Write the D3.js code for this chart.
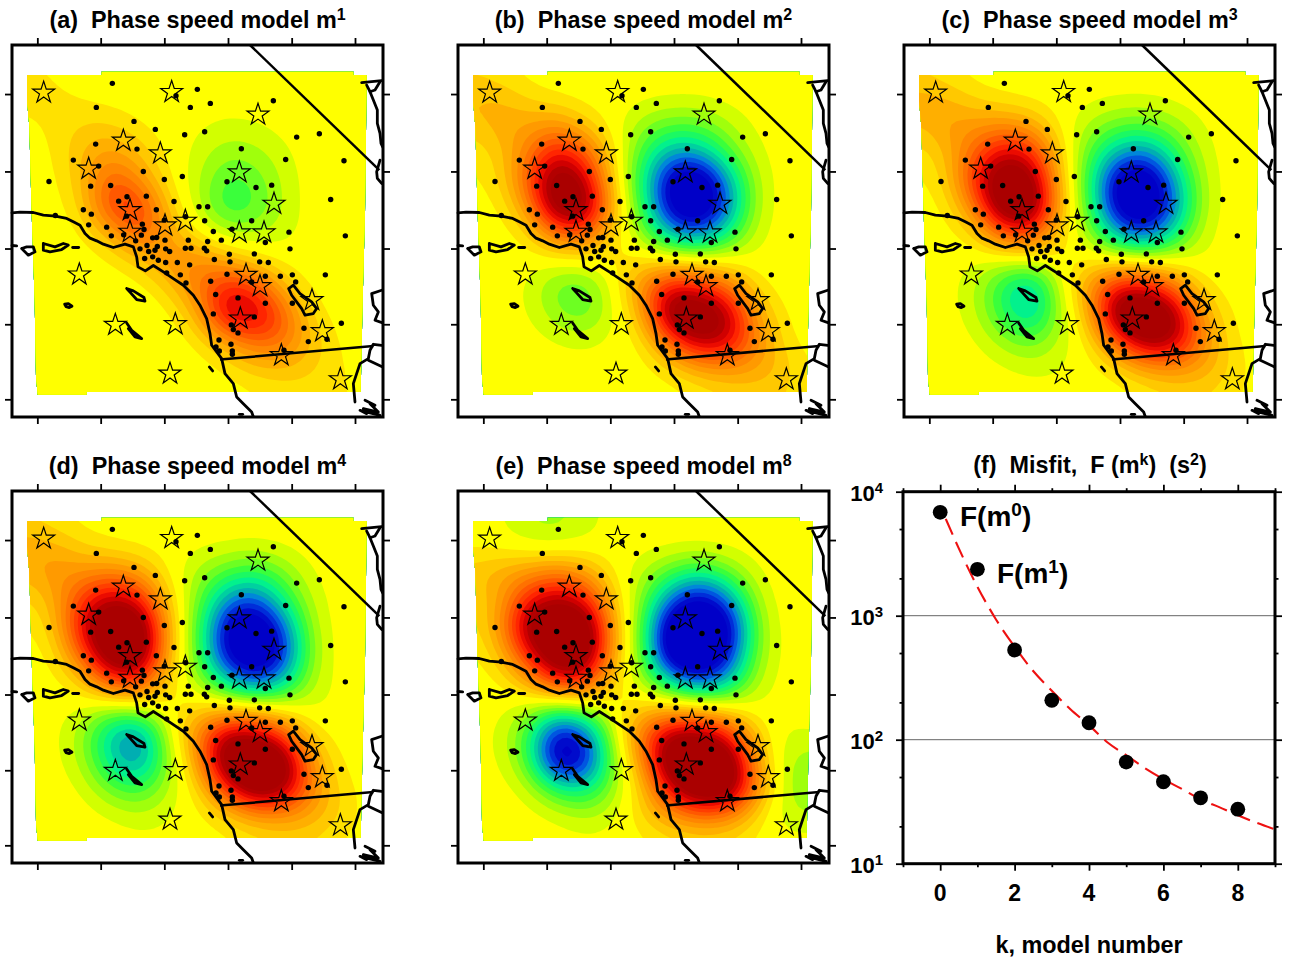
<!DOCTYPE html>
<html>
<head>
<meta charset="utf-8">
<script src="https://cdn.jsdelivr.net/npm/d3@7"></script>
<style>
body { margin: 0; background: #fff; }
text { font-family: "Liberation Sans", Arial, sans-serif; font-weight: bold; fill: #000; white-space: pre; }
</style>
</head>
<body>
<script>
// Map coordinates below are in one projected unit, 1/3 of a screen pixel of panel (a)
const mapX = [36, 1149];
const mapY = [135, 1250];
const lonTicks = [112, 302, 493, 684, 875, 1065];
const latTicks = [282, 514, 745, 972, 1197];

const gridCols = [80, 165, 250, 335, 420, 505, 590, 675, 760, 845, 930, 1015, 1100];
const gridRows = [215, 296, 377, 457, 538, 619, 700, 780, 861, 942, 1023, 1104, 1185];

// Phase speed perturbation (blue is negative, dark red positive, both saturate at 10)
const modelA = [
  [.5, .5, 0, 0, 0, 0, 0, 0, 0, 0, 0, 0, 0],
  [.8, .8, .4, 0, 0, 0, 0, 0, 0, 0, 0, 0, 0],
  [.3, .8, 1.5, 1.5, .4, 0, -.3, -.8, -.6, -.2, 0, 0, 0],
  [0, .4, 2.5, 3.5, 2, .2, -.8, -2, -1.8, -.8, 0, 0, 0],
  [0, .2, 2, 6.5, 3.5, .4, -1, -3.5, -3, -1.2, 0, 0, 0],
  [0, 0, 1.2, 8, 8, 1.5, -1, -4.5, -3.5, -1.3, 0, 0, 0],
  [0, 0, .2, 2.5, 6.5, 3, .4, -1.3, -1.5, -1, -.1, 0, 0],
  [0, 0, 0, .1, 1.5, 4, 4.5, 2.5, 1, 0, 0, 0, 0],
  [0, 0, 0, 0, 0, 1.5, 4.5, 8.5, 7.5, 2.2, 0, 0, 0],
  [0, 0, 0, -.6, -.7, .1, 1.8, 10.5, 10.5, 6.5, 1, 0, 0],
  [0, 0, 0, 0, 0, 0, .2, 2.5, 5.5, 5.5, 2.2, .3, 0],
  [0, 0, 0, 0, 0, 0, 0, .3, 1.5, 2, 1.5, .7, 0],
  [0, 0, 0, 0, 0, 0, 0, 0, .2, .5, .8, .8, .2]
];
const modelB = [
  [1, .5, 0, 0, 0, 0, 0, 0, 0, 0, 0, 0, 0],
  [2.5, 2.5, 1, .3, 0, 0, -.2, -.3, -.3, -.1, 0, 0, 0],
  [1.5, 3, 3, 4, 1.5, -.1, -2, -3, -3, -1.5, -.2, 0, 0],
  [.5, 1.5, 4.5, 9, 6, .6, -3.5, -7, -6.5, -3, -.6, 0, 0],
  [.3, 1, 6, 14, 9.5, .8, -4.5, -12, -14, -7, -1, 0, 0],
  [0, .2, 3.5, 14, 13, 1.5, -3.5, -12, -14, -8.5, -1, 0, 0],
  [0, 0, .6, 5.5, 6, .8, -2, -7, -8.5, -4.5, -.6, 0, 0],
  [0, 0, -.1, -.4, -.1, .6, 1, .6, .3, -.1, -.2, 0, 0],
  [0, 0, -.6, -3, -3.5, -.2, 4.5, 9.5, 8, 5.5, .6, 0, 0],
  [0, 0, -.4, -2.2, -3.2, -.6, 2, 14, 14, 11, 3, .2, 0],
  [0, 0, 0, -.4, -.6, -.2, .2, 5.5, 11, 9.5, 4.5, .6, 0],
  [0, 0, 0, -.1, -.2, -.1, 0, .8, 2.5, 3.5, 3, 2, .2],
  [0, 0, 0, 0, 0, 0, 0, 0, .3, .8, 1.2, 1.5, .3]
];
const modelC = [
  [1, .4, 0, 0, 0, 0, 0, 0, 0, 0, 0, 0, 0],
  [3, 2.5, 1, .3, 0, 0, -.2, -.3, -.4, -.1, 0, 0, 0],
  [2, 3.5, 3.5, 4, 3, .1, -1.5, -2.8, -3, -2, -.4, 0, 0],
  [.5, 2, 5.5, 9.5, 8, 1.2, -3, -6.5, -8, -4, -.8, 0, 0],
  [.3, 1, 8, 14, 12, 1.6, -3.5, -12, -14, -7, -1, 0, 0],
  [0, .3, 4.5, 14, 14, 2, -3, -12, -14, -8.5, -1.1, 0, 0],
  [0, 0, .8, 6.5, 7, .8, -1.5, -7, -9.5, -5, -.6, 0, 0],
  [0, 0, -.5, -1.2, -.6, .2, .6, .4, 0, -.4, -.4, -.1, 0],
  [0, -.1, -1.2, -4.5, -8, -.4, 3.5, 9, 9, 5.5, .6, 0, 0],
  [0, 0, -1, -4, -7, -1.2, 1.5, 14, 15, 12, 3, .2, 0],
  [0, 0, -.2, -1.8, -2.8, -1, .3, 5.5, 12, 10.5, 4.5, .5, 0],
  [0, 0, 0, -.2, -.8, -.6, 0, .6, 2.5, 3.5, 3, 1.2, 0],
  [0, 0, 0, 0, 0, -.1, 0, 0, .3, .8, 1, .8, 0]
];
const modelD = [
  [1, .5, 0, 0, 0, 0, 0, 0, 0, 0, 0, 0, 0],
  [3, 2.5, 1, .3, 0, 0, -.2, -.2, -.4, -.2, 0, 0, 0],
  [2.5, 4, 3.5, 4, 3, .1, -1.5, -3, -4, -2.5, -.4, 0, 0],
  [.8, 2.5, 7, 10.5, 8, 1.2, -2, -7, -9, -4.5, -1, 0, 0],
  [.4, 1.2, 10, 14, 14, 2, -2.5, -11, -14, -9, -1.3, 0, 0],
  [0, .4, 6.5, 14, 14, 2, -2.5, -11, -14, -11, -1.8, 0, 0],
  [0, 0, 1.5, 8, 8, .8, -1.5, -6, -10, -7, -1.3, -.1, 0],
  [0, 0, -.6, -1.8, -.7, .3, 1, .8, .2, -.4, -.8, -.3, 0],
  [0, -.2, -1.8, -6.5, -9, -.5, 4, 10.5, 10.5, 6.5, .8, 0, 0],
  [0, -.1, -1.5, -6, -8.5, -1.8, 2.5, 14, 15, 14, 3.5, .2, 0],
  [0, 0, -.4, -3, -4, -1.2, .5, 7, 14, 12, 4.5, 1, 0],
  [0, 0, 0, -.4, -1.2, -.6, .1, 1, 3, 3.5, 3, 1.5, 0],
  [0, 0, 0, 0, -.1, -.2, 0, .1, .4, 1, 1, .4, 0]
];
const modelE = [
  [0, -.4, -1.6, -1.8, -1, -.1, 0, 0, 0, 0, 0, 0, 0],
  [.1, -.2, -1, -1.2, -.6, 0, 0, 0, 0, 0, 0, 0, 0],
  [2, 3, 3.5, 4.5, 3, .1, -1.2, -3, -4.5, -2.5, -.4, 0, 0],
  [1, 2.5, 8, 10.5, 8, 1.2, -2, -8, -12, -8, -1, 0, 0],
  [.7, 3, 13, 14, 14, 2, -2.5, -14, -14, -13, -1.8, 0, 0],
  [.1, 1.8, 8.5, 14, 14, 2, -2.5, -14, -15, -11, -1.8, -.1, 0],
  [0, .2, 3, 9.5, 8, .8, -1.5, -6.5, -10, -7, -1, -.1, 0],
  [0, -.1, -1.2, -3, -1.3, .2, 1.3, 1.3, .8, -.2, -.4, -.1, 0],
  [0, -.6, -3.5, -12, -9, -.6, 5.5, 11, 11, 8, 1.3, -1, -.3],
  [0, -.4, -3, -14, -11, -1.8, 3.5, 15, 15, 14, 3, -1.6, -2],
  [0, 0, -.8, -4.5, -5.5, -1.8, 1.3, 9, 15, 14, 4.5, -1.5, -2.8],
  [0, 0, 0, -.5, -1.5, -.8, 1.5, 3.5, 5, 4.5, 1, -1.5, -1.2],
  [0, 0, 0, 0, -.1, -.1, .1, .4, .6, .5, .2, -.1, 0]
];

const colorStops = [-10, -8.5, -7.5, -6.5, -5, -3.5, -2, -1, 0, 1, 2.5, 5, 7.5, 8.5, 10];
const colorValues = ['#0000c8', '#0040e0', '#0080e0', '#00b0b0', '#00f090', '#30ff40', '#90ff10', '#d0ff00',
  '#ffff00', '#ffdf00', '#ffb000', '#ff7000', '#ff2000', '#e00000', '#aa0000'];

// Outline of the area the model covers
const coverage = [[81, 225], [305, 225], [305, 215], [1060, 215], [1060, 225], [1100, 225], [1098, 400], [1095, 640],
  [1088, 900], [1082, 1175], [260, 1175], [260, 1183], [113, 1183], [108, 1130], [104, 900], [95, 640], [88, 380], [81, 300]];

const stations = [[337, 250], [592, 268], [528, 287], [289, 322], [571, 322], [631, 310], [820, 302], [402, 364], [466, 388],
  [614, 395], [554, 404], [890, 411], [958, 401], [287, 432], [411, 447], [724, 446], [220, 480], [857, 478], [1032, 482],
  [296, 498], [430, 514], [147, 544], [493, 538], [547, 529], [681, 545], [768, 562], [815, 555], [332, 556], [272, 558],
  [381, 590], [356, 603], [439, 588], [522, 604], [992, 598], [597, 620], [623, 620], [250, 629], [274, 642], [469, 629],
  [380, 648], [166, 646], [557, 650], [614, 662], [755, 662], [266, 674], [320, 681], [432, 688], [493, 660], [427, 672],
  [696, 687], [640, 694], [867, 696], [334, 707], [371, 704], [424, 705], [1036, 707], [458, 713], [470, 712], [495, 720],
  [565, 720], [623, 724], [664, 720], [796, 727], [407, 722], [441, 736], [472, 739], [420, 746], [446, 754], [465, 750],
  [497, 746], [509, 754], [556, 744], [573, 744], [613, 744], [620, 752], [870, 746], [763, 761], [643, 778], [688, 762],
  [690, 785], [779, 785], [805, 787], [434, 775], [458, 770], [475, 780], [497, 787], [532, 787], [569, 794], [500, 818],
  [541, 824], [681, 822], [796, 828], [841, 828], [877, 824], [976, 824], [558, 848], [632, 843], [755, 845], [887, 845],
  [647, 883], [714, 893], [796, 909], [877, 909], [640, 941], [763, 950], [694, 974], [700, 988], [714, 998], [912, 984],
  [1024, 969], [925, 1024], [981, 1017], [657, 1019], [693, 1032], [852, 1050], [697, 1052], [697, 1062], [648, 1040], [658, 1052]];

const sources = [[131, 278], [515, 276], [774, 344], [370, 422], [481, 460], [266, 506], [718, 517], [822, 611], [390, 630],
  [556, 662], [495, 676], [390, 695], [718, 697], [792, 697], [238, 823], [738, 824], [780, 858], [936, 900], [721, 955],
  [346, 974], [526, 972], [967, 993], [844, 1065], [510, 1120], [1021, 1137]];

const coast = [[36, 638], [60, 636], [100, 637], [130, 645], [166, 648], [200, 655], [220, 665], [240, 675], [255, 700], [270, 714], [290, 722],
  [310, 732], [340, 742], [375, 732], [400, 740], [410, 770], [414, 800], [436, 812], [460, 796], [490, 815], [520, 835],
  [550, 855], [580, 885], [600, 915], [620, 955], [630, 1000], [635, 1035], [650, 1055], [665, 1075], [675, 1120], [700, 1150],
  [710, 1190], [730, 1210], [755, 1235], [760, 1249]];
const islands = [
  [[36, 736], [50, 737]],
  [[65, 745], [85, 765], [105, 755], [100, 740], [80, 740], [65, 745]],
  [[130, 730], [130, 750], [150, 755], [185, 748], [205, 735], [190, 730], [165, 740], [130, 730]],
  [[218, 742], [236, 742]],
  [[194, 912], [205, 910], [216, 918], [208, 922], [198, 919], [194, 912]],
  [[380, 865], [400, 872], [432, 892], [435, 903], [410, 898], [392, 878], [380, 865]],
  [[380, 968], [395, 990], [425, 1015], [405, 1010], [385, 985]],
  [[866, 865], [880, 855], [900, 880], [935, 905], [950, 925], [940, 940], [915, 945], [905, 925], [875, 885], [866, 865]],
  [[628, 1100], [638, 1112]],
  [[718, 1242], [728, 1242]]
];
const rivers = [
  [[1085, 248], [1145, 242]],
  [[1100, 255], [1110, 275], [1125, 270], [1140, 245]],
  [[1110, 275], [1120, 300], [1132, 330], [1132, 370], [1140, 400], [1143, 430], [1148, 440]],
  [[1140, 480], [1130, 515], [1132, 535], [1145, 550]],
  [[1145, 870], [1115, 880], [1120, 915], [1135, 935], [1125, 960], [1148, 968]],
  [[1145, 1035], [1120, 1032], [1110, 1050], [1105, 1075], [1080, 1090], [1070, 1120], [1060, 1150], [1065, 1205]],
  [[1105, 1080], [1148, 1100]],
  [[1095, 1200], [1125, 1215], [1110, 1210], [1135, 1235], [1090, 1225], [1140, 1245], [1080, 1230], [1100, 1240]]
];
const stateLine = [[750, 135], [1138, 510]];
const borderLine = [[660, 1078], [1120, 1037]];

const panels = [
  { label: '(a)  Phase speed model m', sup: '1', model: modelA, x: 12, y: 45 },
  { label: '(b)  Phase speed model m', sup: '2', model: modelB, x: 458, y: 45 },
  { label: '(c)  Phase speed model m', sup: '3', model: modelC, x: 904, y: 45 },
  { label: '(d)  Phase speed model m', sup: '4', model: modelD, x: 12, y: 491 },
  { label: '(e)  Phase speed model m', sup: '8', model: modelE, x: 458, y: 491 }
];

// Misfit panel
const modelNumber = [0, 1, 2, 3, 4, 5, 6, 7, 8];
const misfit = [6820, 2366, 529, 208, 137, 66, 45.8, 34, 27.5];
const fitK = [0.15, 0.5, 1, 1.5, 2, 2.5, 3, 3.5, 4, 4.5, 5, 5.5, 6, 6.5, 7, 7.5, 8, 8.5, 9];
const fitF = [6030, 3490, 1714, 933, 562, 358, 248, 176, 131, 95, 75, 59, 48, 40, 33, 28.6, 24.6, 21.4, 18.9];
const kMajor = [0, 2, 4, 6, 8];
const kMinor = [-1, 1, 3, 5, 7, 9];
const fMajor = [10, 100, 1000, 10000];
const fMinor = [20, 50, 200, 500, 2000, 5000];

const svg = d3.select('body').append('svg')
    .attr('width', 1292)
    .attr('height', 962);

const frameW = 371;
const frameH = 372;
const x = d3.scaleLinear().domain(mapX).range([0, frameW]);
const y = d3.scaleLinear().domain(mapY).range([0, frameH]);
const color = d3.scaleLinear().domain(colorStops).range(colorValues).clamp(true);
const mapLine = d3.line().x(d => x(d[0])).y(d => y(d[1]));

// Levels leave a wider yellow band around no perturbation
const step = 0.8;
const levels = d3.range(-13, 14).map(i => i <= 0 ? -0.55 + i * step : 0.55 + (i - 1) * step);

const factor = 6;
const fineW = (gridCols.length - 1) * factor + 1;
const fineH = (gridRows.length - 1) * factor + 1;
const fineX = d3.scaleLinear().domain([0.5, fineW - 0.5]).range([x(gridCols[0]), x(gridCols[gridCols.length - 1])]);
const fineY = d3.scaleLinear().domain([0.5, fineH - 0.5]).range([y(gridRows[0]), y(gridRows[gridRows.length - 1])]);
const contourPath = d3.geoPath(d3.geoTransform({
    point(a, b) { this.stream.point(fineX(a), fineY(b)); }
}));

// Resample a read grid on a finer mesh and soften it, then let d3.contours band it
function fineField(grid) {
    const data = new Float64Array(fineW * fineH);
    for (let j = 0; j < fineH; j++) {
        for (let i = 0; i < fineW; i++) {
            const c = Math.min(Math.floor(i / factor), gridCols.length - 2);
            const r = Math.min(Math.floor(j / factor), gridRows.length - 2);
            const u = i / factor - c;
            const v = j / factor - r;
            data[j * fineW + i] = (1 - v) * ((1 - u) * grid[r][c] + u * grid[r][c + 1])
                + v * ((1 - u) * grid[r + 1][c] + u * grid[r + 1][c + 1]);
        }
    }
    d3.blur2({ data, width: fineW, height: fineH }, 2.5);
    return data.map(d => Math.max(-10.9, Math.min(10.9, d)));
}

const contourer = d3.contours().size([fineW, fineH]).thresholds(levels);
const starPath = d3.symbol().type(d3.symbolStar).size(149)();
const noLabel = () => '';

panels.forEach((p, n) => {
    const g = svg.append('g').attr('transform', `translate(${p.x},${p.y})`);

    g.append('clipPath').attr('id', `cover${n}`)
      .append('path')
        .attr('d', mapLine(coverage) + 'Z');

    g.append('g')
        .attr('clip-path', `url(#cover${n})`)
      .selectAll('path')
      .data(contourer(fineField(p.model)))
      .enter()
      .append('path')
        .attr('d', contourPath)
        .attr('fill', d => d.value === levels[13] ? '#ffff00' : color(d.value + step / 2));

    // Coast, islands and political lines
    g.append('g').selectAll('path')
        .data([coast, ...islands, ...rivers])
        .enter()
        .append('path')
        .attr('d', mapLine)
        .attr('fill', 'none')
        .attr('stroke', '#000')
        .attr('stroke-width', 2.8)
        .attr('stroke-linejoin', 'round')
        .attr('stroke-linecap', 'round');

    g.append('g').selectAll('path')
        .data([stateLine, borderLine])
        .enter()
        .append('path')
        .attr('d', mapLine)
        .attr('fill', 'none')
        .attr('stroke', '#000')
        .attr('stroke-width', 2.5);

    g.append('g').selectAll('circle')
        .data(stations)
        .enter()
        .append('circle')
        .attr('cx', d => x(d[0]))
        .attr('cy', d => y(d[1]))
        .attr('r', 2.7)
        .attr('fill', '#000');

    g.append('g').selectAll('path')
        .data(sources)
        .enter()
        .append('path')
        .attr('d', starPath)
        .attr('transform', d => `translate(${x(d[0])},${y(d[1])})`)
        .attr('fill', 'none')
        .attr('stroke', '#000')
        .attr('stroke-width', 1.2);

    // Unlabelled ticks on all four sides
    const sides = [
        [d3.axisTop(x).tickValues(lonTicks), 0, 0],
        [d3.axisBottom(x).tickValues(lonTicks), 0, frameH],
        [d3.axisLeft(y).tickValues(latTicks), 0, 0],
        [d3.axisRight(y).tickValues(latTicks), frameW, 0]
    ];
    sides.forEach(([axis, tx, ty]) => {
        const a = g.append('g')
            .attr('transform', `translate(${tx},${ty})`)
            .call(axis.tickSize(7).tickFormat(noLabel));
        a.select('.domain').remove();
        a.selectAll('line').attr('stroke-width', 1.8);
        a.selectAll('text').remove();
    });

    g.append('rect')
        .attr('width', frameW)
        .attr('height', frameH)
        .attr('fill', 'none')
        .attr('stroke', '#000')
        .attr('stroke-width', 3);

    const title = g.append('text')
        .attr('x', frameW / 2)
        .attr('y', -17)
        .attr('text-anchor', 'middle')
        .attr('font-size', 23.4);
    title.append('tspan').text(p.label);
    title.append('tspan').attr('dy', -8).attr('font-size', 16).text(p.sup);
});

// Panel (f)
const fX = 903;
const fY = 491.7;
const fW = 372;
const fH = 372;
const fg = svg.append('g').attr('transform', `translate(${fX},${fY})`);
const kScale = d3.scaleLinear().domain([-1, 9]).range([0, fW]);
const fScale = d3.scaleLog().domain([10, 10000]).range([fH, 0]);

fg.selectAll('.grid')
    .data([100, 1000])
    .enter()
    .append('line')
    .attr('class', 'grid')
    .attr('x1', 0)
    .attr('x2', fW)
    .attr('y1', d => fScale(d))
    .attr('y2', d => fScale(d))
    .attr('stroke', '#666')
    .attr('stroke-width', 1);

const fitLine = d3.line()
    .x((d, i) => kScale(fitK[i]))
    .y(d => fScale(d))
    .curve(d3.curveMonotoneX);

fg.append('path')
    .attr('d', fitLine(fitF))
    .attr('fill', 'none')
    .attr('stroke', '#ee1111')
    .attr('stroke-width', 2.1)
    .attr('stroke-dasharray', '17 8');

fg.selectAll('.pt')
    .data(misfit)
    .enter()
    .append('circle')
    .attr('class', 'pt')
    .attr('cx', (d, i) => kScale(modelNumber[i]))
    .attr('cy', d => fScale(d))
    .attr('r', 7.4)
    .attr('fill', '#000');

function tickSide(axis, tx, ty) {
    const a = fg.append('g')
        .attr('transform', `translate(${tx},${ty})`)
        .call(axis);
    a.select('.domain').remove();
    a.selectAll('line').attr('stroke-width', 1.8);
    return a;
}

[[d3.axisTop, 0], [d3.axisBottom, fH]].forEach(([make, ty]) => {
    tickSide(make(kScale).tickValues(kMinor).tickSize(3.5).tickFormat(noLabel), 0, ty);
    tickSide(make(kScale).tickValues(kMajor).tickSize(7).tickFormat(noLabel), 0, ty);
});
[[d3.axisLeft, 0], [d3.axisRight, fW]].forEach(([make, tx]) => {
    tickSide(make(fScale).tickValues(fMinor).tickSize(3.5).tickFormat(noLabel), tx, 0);
    tickSide(make(fScale).tickValues(fMajor).tickSize(7).tickFormat(noLabel), tx, 0);
});

fg.append('rect')
    .attr('width', fW)
    .attr('height', fH)
    .attr('fill', 'none')
    .attr('stroke', '#000')
    .attr('stroke-width', 3);

fg.selectAll('.klabel')
    .data(kMajor)
    .enter()
    .append('text')
    .attr('class', 'klabel')
    .attr('x', d => kScale(d))
    .attr('y', 409)
    .attr('text-anchor', 'middle')
    .attr('font-size', 23)
    .text(d => d);

const fLabels = fg.selectAll('.flabel')
    .data(fMajor)
    .enter()
    .append('text')
    .attr('class', 'flabel')
    .attr('x', -20)
    .attr('y', d => fScale(d) + 9)
    .attr('text-anchor', 'end')
    .attr('font-size', 22);
fLabels.append('tspan').text('10');
fLabels.append('tspan')
    .attr('dy', -8)
    .attr('font-size', 15)
    .text(d => Math.round(Math.log10(d)));

svg.append('text')
    .attr('x', 1089)
    .attr('y', 953)
    .attr('text-anchor', 'middle')
    .attr('font-size', 23.4)
    .text('k, model number');

const fTitle = svg.append('text')
    .attr('x', 1090)
    .attr('y', 473)
    .attr('text-anchor', 'middle')
    .attr('font-size', 23.4);
fTitle.append('tspan').text('(f)  Misfit,  F (m');
fTitle.append('tspan').attr('dy', -8).attr('font-size', 16).text('k');
fTitle.append('tspan').attr('dy', 8).text(')  (s');
fTitle.append('tspan').attr('dy', -8).attr('font-size', 16).text('2');
fTitle.append('tspan').attr('dy', 8).text(')');

[['F(m', '0', 960, 526], ['F(m', '1', 997, 583]].forEach(([a, b, tx, ty]) => {
    const t = svg.append('text')
        .attr('x', tx)
        .attr('y', ty)
        .attr('font-size', 28);
    t.append('tspan').text(a);
    t.append('tspan').attr('dy', -10).attr('font-size', 19).text(b);
    t.append('tspan').attr('dy', 10).text(')');
});
</script>
</body>
</html>
